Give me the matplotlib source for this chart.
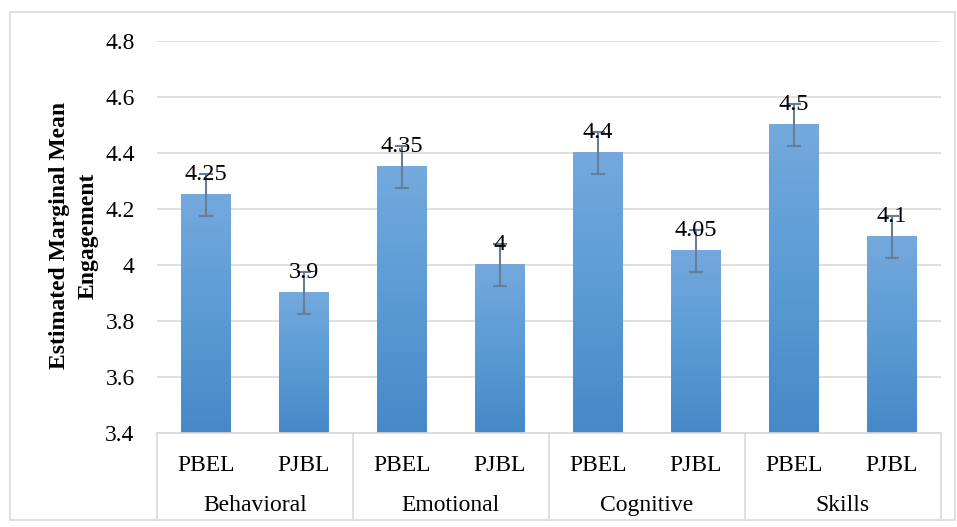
import numpy as np
import matplotlib
matplotlib.use("Agg")
import matplotlib.pyplot as plt
from matplotlib.colors import LinearSegmentedColormap
from matplotlib.patches import Rectangle

# data
groups = ["Behavioral", "Emotional", "Cognitive", "Skills"]
methods = ["PBEL", "PJBL"]
means = [4.25, 3.9, 4.35, 4.0, 4.4, 4.05, 4.5, 4.1]
errs = [0.075, 0.075, 0.075, 0.075, 0.075, 0.075, 0.075, 0.075]
yticks = [3.4, 3.6, 3.8, 4.0, 4.2, 4.4, 4.6, 4.8]

plt.rcParams["font.family"] = ["Liberation Serif", "DejaVu Serif"]

fig = plt.figure(figsize=(9.57, 5.27), dpi=100)
ax = fig.add_axes([0.164, 0.178, 0.819, 0.744])

ymin, ymax = 3.4, 4.8
width = 0.51
grad = LinearSegmentedColormap.from_list("bar", ["#4788c7", "#5b9bd5", "#74a9dd"])
g = np.linspace(0, 1, 256).reshape(-1, 1)

x = np.arange(len(means))
for xi, m in zip(x, means):
    ax.imshow(g, cmap=grad, origin="lower", aspect="auto",
              extent=[xi - width / 2, xi + width / 2, ymin, m], zorder=2)

ax.errorbar(x, means, yerr=errs, fmt="none", ecolor="#687d96",
            elinewidth=1.5, capsize=5, capthick=1.5, zorder=3)

for xi, m, e in zip(x, means, errs):
    ax.annotate(f"{m:g}", (xi, m + e), xytext=(0, -4), textcoords="offset points",
                ha="center", va="baseline", fontsize=17.5, zorder=4)

ax.set_xlim(-0.5, len(means) - 0.5)
ax.set_ylim(ymin, ymax)
ax.set_yticks(yticks)
ax.set_yticklabels([f"{t:g}" for t in yticks], fontsize=17)
ax.tick_params(axis="y", length=0, pad=16)
ax.set_xticks([])
ax.grid(axis="y", color="#d9d9d9", linewidth=1.2, zorder=0)
ax.set_axisbelow(True)
for s in ax.spines.values():
    s.set_visible(False)

# category axis
trans = ax.get_xaxis_transform()
ax.plot([-0.5, len(means) - 0.5], [0, 0], color="#d9d9d9", lw=1.2,
        transform=trans, clip_on=False)
for i in range(len(groups) + 1):
    xs = i * len(methods) - 0.5
    ax.plot([xs, xs], [0, -0.222], color="#d9d9d9", lw=1.2,
            transform=trans, clip_on=False)
for gi, grp in enumerate(groups):
    for mi, meth in enumerate(methods):
        ax.text(gi * len(methods) + mi, -0.082, meth, transform=trans,
                ha="center", va="center", fontsize=17)
    ax.text(gi * len(methods) + (len(methods) - 1) / 2, -0.184, grp,
            transform=trans, ha="center", va="center", fontsize=17)

fig.text(0.077, 0.553, "Estimated Marginal Mean\nEngagement", rotation=90,
         ha="center", va="center", fontsize=17, fontweight="bold",
         linespacing=1.45)

fig.patches.append(Rectangle((10 / 957, 7 / 527), 945 / 957, 508 / 527,
                             transform=fig.transFigure, fill=False,
                             edgecolor="#d9d9d9", lw=1.2))

fig.savefig("out.png", dpi=100)
